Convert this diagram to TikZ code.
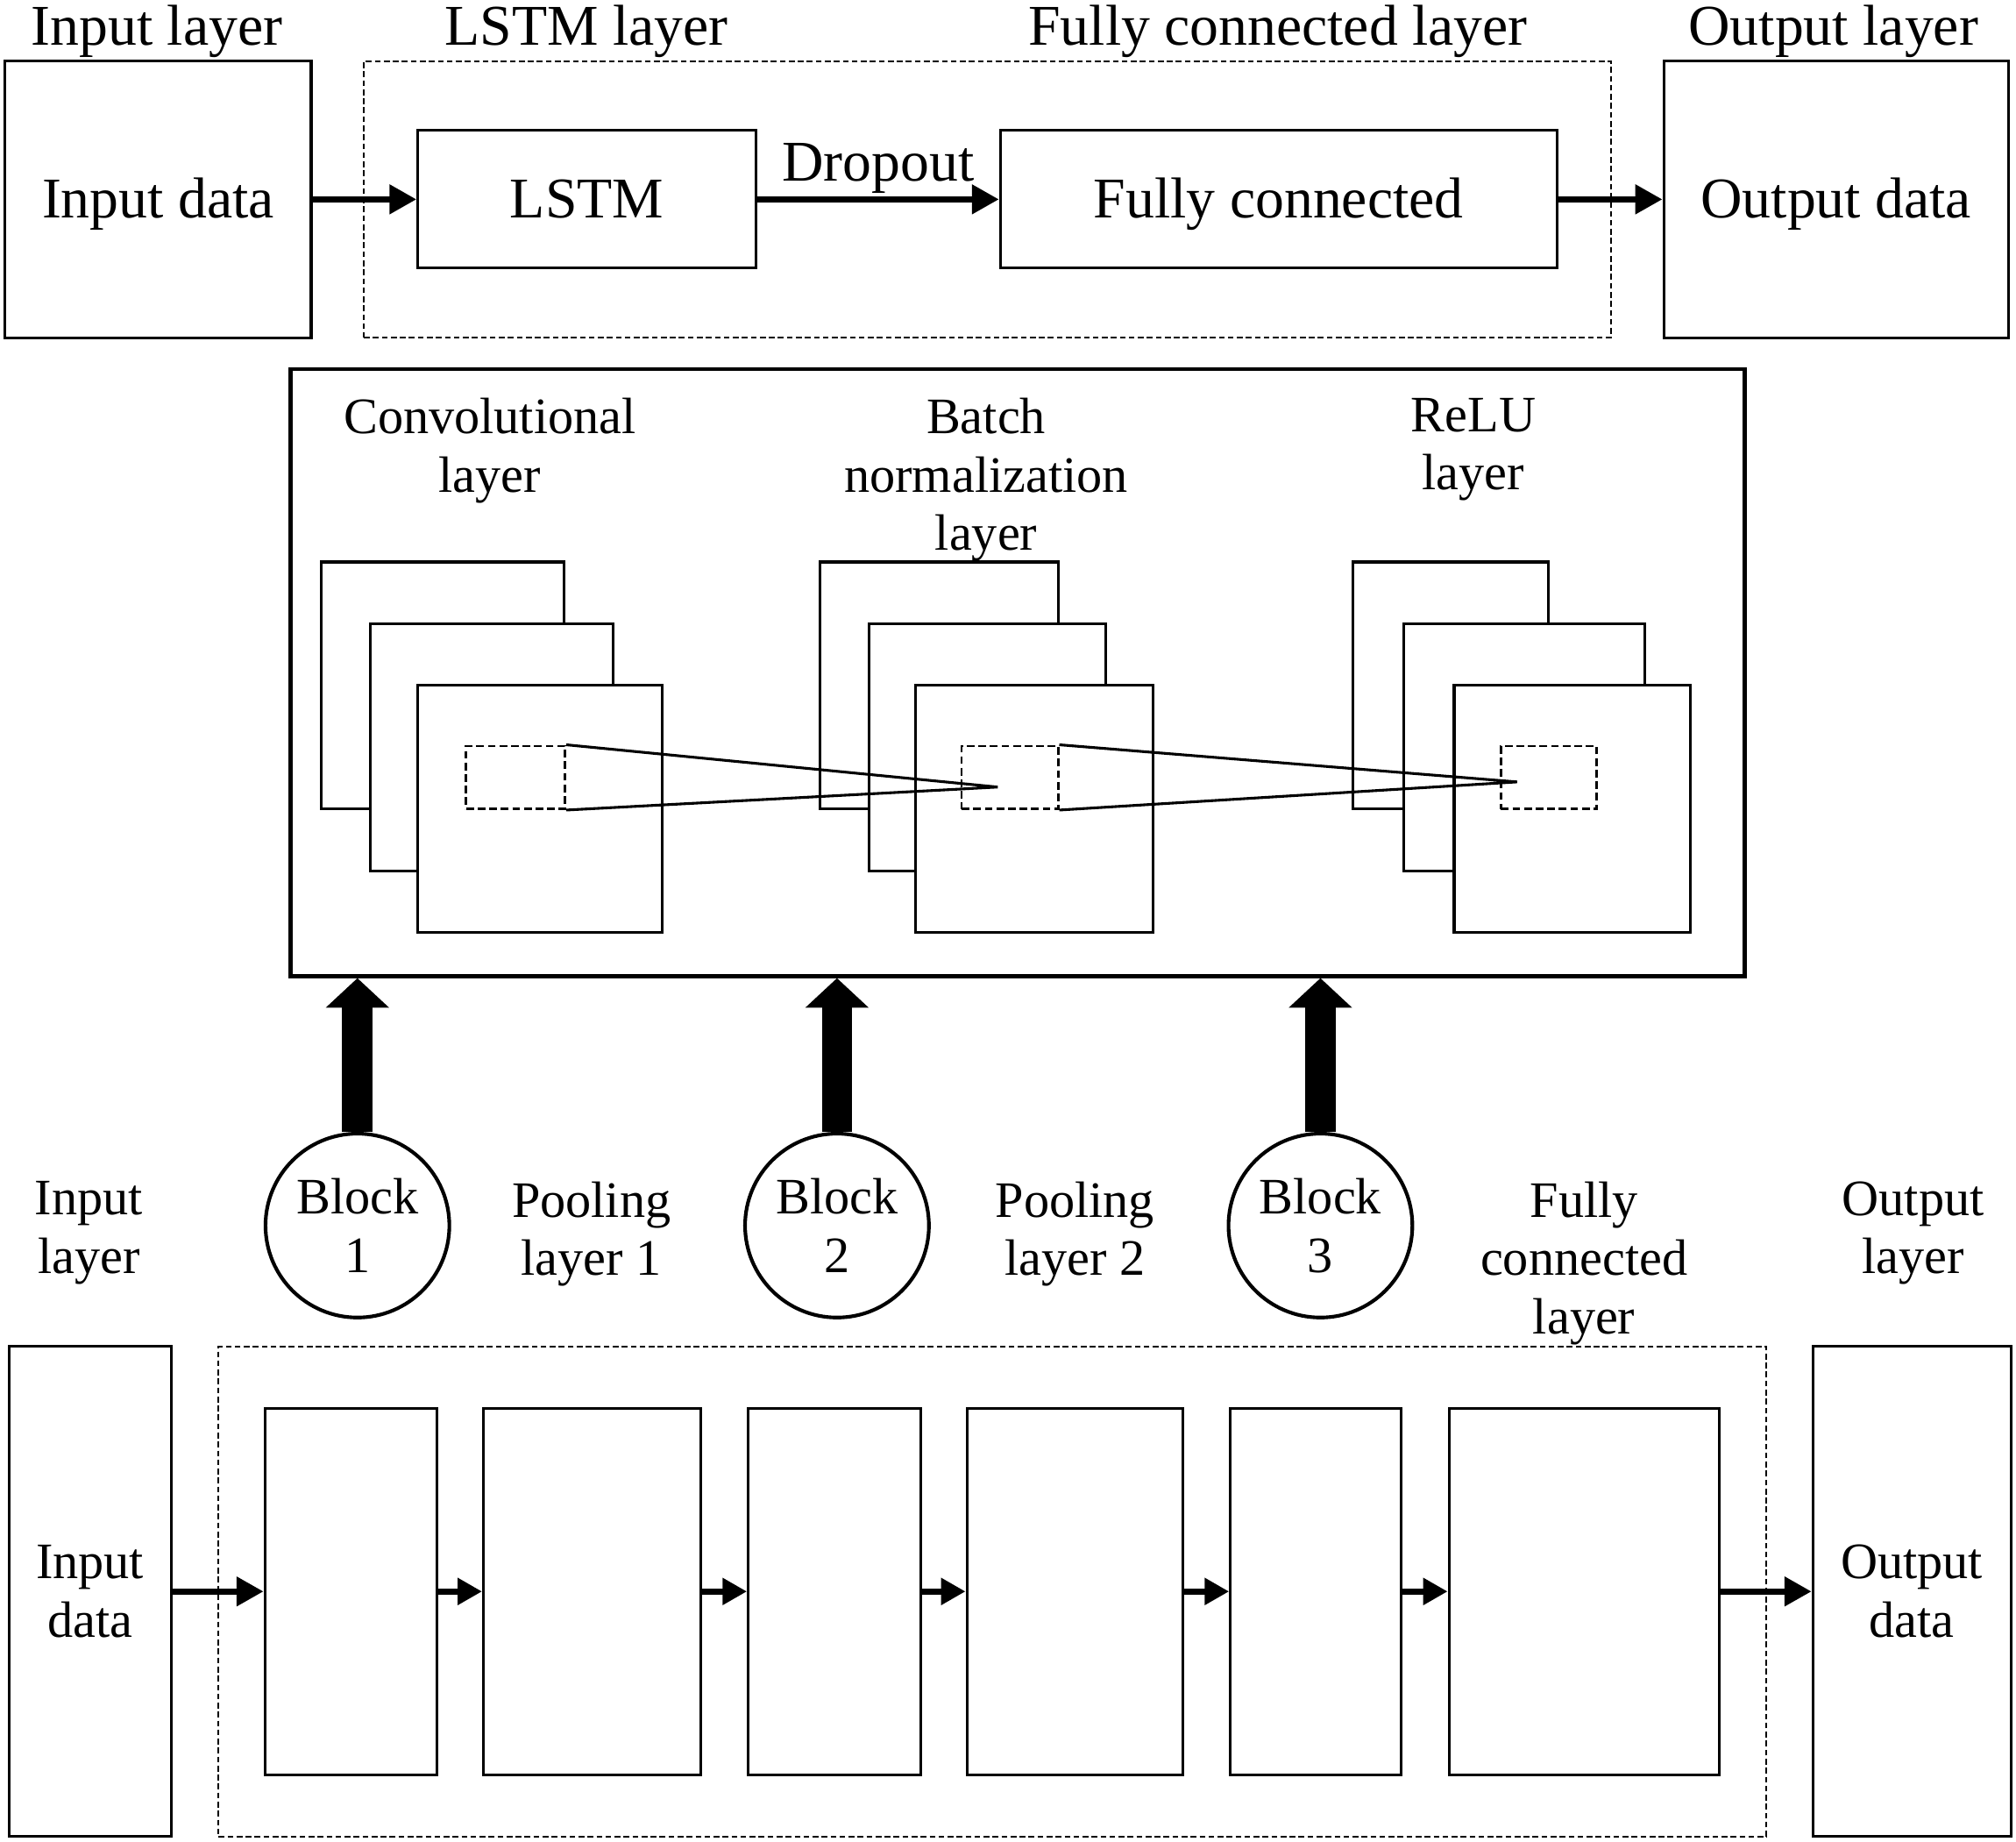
\documentclass[tikz,border=0pt]{standalone}
\usepackage{fontspec}
\setmainfont{Liberation Serif}
\usepackage{tikz}
\usetikzlibrary{positioning}
\usetikzlibrary{arrows.meta}
\newcommand{\bigtxt}{\fontsize{12.75}{15}\selectfont}
\newcommand{\smalltxt}{\fontsize{11.3}{12.9}\selectfont}
\tikzstyle{databox}=[draw,line width=0.6pt,inner sep=0pt,align=center,font=\bigtxt,text height=8.7pt,text depth=0.4pt]
\tikzstyle{stagebox}=[draw,line width=0.6pt,inner sep=0pt,align=center,font=\smalltxt]
\tikzstyle{groupbox}=[draw,line width=0.4pt,dash pattern=on 0.45mm off 0.25mm,inner sep=0pt]
\tikzstyle{fmap}=[draw,fill=white,line width=0.6pt,inner sep=0pt]
\tikzstyle{recfield}=[draw,line width=0.5pt,dash pattern=on 0.6mm off 0.3mm,inner sep=0pt]
\tikzstyle{flow}=[draw,line width=1.4pt,-{Triangle[length=2.1mm,width=2.2mm]}]
\tikzstyle{flowsmall}=[draw,line width=1.4pt,-{Triangle[length=1.9mm,width=2.0mm]}]
\tikzstyle{feed}=[draw,line width=2.36mm,-{Triangle[length=2.3mm,width=4.8mm]}]
\tikzstyle{ray}=[draw,line width=0.6pt]
\tikzstyle{blockcircle}=[circle,draw,line width=0.8pt,minimum size=14.3mm,inner sep=0pt,align=center,font=\smalltxt]
\tikzstyle{caption}=[inner sep=0pt,align=center]

\begin{document}
\begin{tikzpicture}[x=0.1mm,y=-0.1mm]
  \useasboundingbox (0,0) rectangle (1568,1432);

  % LSTM network
  \node[groupbox, minimum width=97mm, minimum height=21.5mm] (lstmgroup) at (768,155) {};
  \foreach \x/\w/\h/\name/\label in {123/238/215/inbox/Input data, 456.5/263/107/lstm/LSTM, 994.5/433/107/fc/Fully connected, 1428/268/215/outbox/Output data}
    \node[databox, minimum width=\w*0.1mm, minimum height=\h*0.1mm] (\name) at (\x,155) {\label};

  \foreach \x/\name/\label in {122/inlayer/Input layer, 456/lstmlayer/LSTM layer, 994/fclayer/Fully connected layer, 1426/outlayer/Output layer}
    \node[caption, font=\bigtxt, anchor=base] (\name) at (\x,35) {\label};

  \draw[flow] (inbox) -- (lstm);
  \draw[flow] (lstm) -- node[above, inner sep=0.6pt, font=\bigtxt] (dropout) {Dropout} (fc);
  \draw[flow] (fc) -- (outbox);

  % CNN block
  \node[draw, line width=0.9pt, minimum width=113.1mm, minimum height=47.2mm] (cnnbox) at (791.5,523) {};
  \foreach \x/\name/\label in {381/convlbl/Convolutional\\layer, 767/bnlbl/Batch\\normalization\\layer, 1146/relulbl/ReLU\\layer}
    \node[caption, font=\smalltxt, anchor=north] (\name) at (\x,309) {\label};

  \foreach \s/\xa/\xb/\xc/\wa/\wb/\wc in {1/344.5/382.5/420/189/189/190, 2/730.5/768/804.5/185/184/185, 3/1128/1185.5/1223/152/187/184} {
    \node[fmap, minimum width=\wa*0.1mm, minimum height=19.2mm] (back\s) at (\xa,533) {};
    \node[fmap, minimum width=\wb*0.1mm, minimum height=19.2mm] (mid\s) at (\xb,581) {};
    \node[fmap, minimum width=\wc*0.1mm, minimum height=19.2mm] (front\s) at (\xc,629) {};
  }
  \foreach \s/\x/\w in {1/401/77, 2/785.5/75, 3/1204.7/74.5}
    \node[recfield, minimum width=\w*0.1mm, minimum height=4.9mm] (win\s) at (\x,604.5) {};

  \coordinate (focus2) at (776,612);
  \coordinate (focus3) at (1180,608);
  \draw[ray] (win1.north east) -- (focus2) -- (win1.south east);
  \draw[ray] (win2.north east) -- (focus3) -- (win2.south east);

  % CNN network
  \node[groupbox, minimum width=120.4mm, minimum height=38.1mm] (cnngroup) at (772,1237.5) {};
  \foreach \x/\w/\name/\label in {70/126/indata/Input\\data, 1487/154/outdata/Output\\data}
    \node[stagebox, minimum width=\w*0.1mm, minimum height=38.1mm] (\name) at (\x,1237.5) {\label};
  \foreach \x/\w/\name in {273/134/c1, 460.5/169/c2, 649/134/c3, 836/168/c4, 1023.5/133/c5, 1232/210/c6}
    \node[stagebox, minimum width=\w*0.1mm, minimum height=28.5mm] (\name) at (\x,1237.5) {};

  \draw[flow] (indata) -- (c1);
  \foreach \a/\b in {c1/c2, c2/c3, c3/c4, c4/c5, c5/c6}
    \draw[flowsmall] (\a) -- (\b);
  \draw[flow] (c6) -- (outdata);

  \foreach \x/\name/\label in {69/inlbl/Input\\layer, 460/pool1/Pooling\\layer 1, 836/pool2/Pooling\\layer 2, 1232/fclbl/Fully\\connected\\layer, 1488/outlbl/Output\\layer}
    \node[caption, font=\smalltxt, anchor=north] (\name) at (\x,918) {\label};

  \foreach \x/\n in {278/1, 651/2, 1027/3}
    \node[blockcircle] (blk\n) at (\x,953) {Block\\\n};
  \foreach \n in {1,2,3}
    \draw[feed] (blk\n.north) -- (blk\n.north |- cnnbox.south);

\end{tikzpicture}
\end{document}
